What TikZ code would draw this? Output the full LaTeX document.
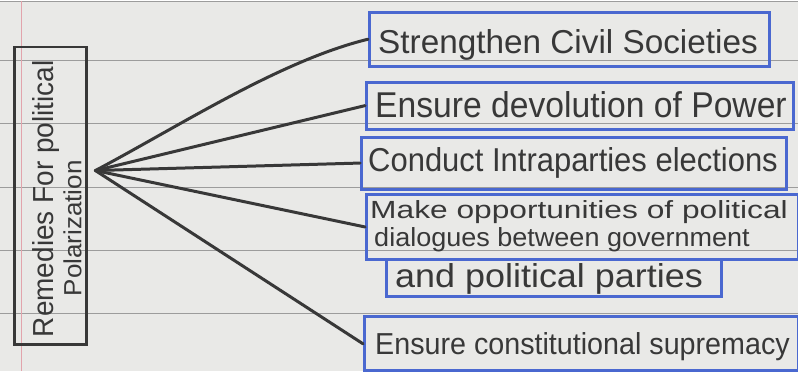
\documentclass[tikz,border=0pt]{standalone}
\usepackage{fontspec}
\setmainfont{Liberation Sans}
\usepackage{graphicx}
\definecolor{pen}{HTML}{4A68D0}
\definecolor{ink}{HTML}{383838}
\definecolor{paper}{HTML}{E9E9E7}
\definecolor{paperrule}{HTML}{9C9C9C}
\definecolor{marginline}{HTML}{E2A4AC}
\newcommand\fitt[3]{\resizebox{#1pt}{#2pt}{#3}}
\tikzset{
  bluebox/.style={draw=pen, line width=3pt, rectangle, inner sep=0pt, anchor=north west},
  inkbox/.style={draw=ink, line width=2.5pt, rectangle, inner sep=0pt, anchor=north west},
  txt/.style={text=ink, inner sep=0pt, anchor=base west},
  conn/.style={draw=ink, line width=3pt, line cap=round},
}
\begin{document}
\begin{tikzpicture}[x=1pt,y=-1pt]
\fill[paper] (0,0) rectangle (798,371);
\foreach \yy in {1,60,123,187,250,313} \draw[paperrule, line width=1pt] (0,\yy) -- (798,\yy);
\draw[marginline, line width=1.5pt] (21,0) -- (21,371);
\useasboundingbox (0,0) rectangle (798,371);

% left box
\node[inkbox, minimum width=72pt, minimum height=298pt] (lb) at (13,45) {};
\node[txt, rotate=90] (l1) at (53,337) {\fitt{277}{21}{Remedies For political}};
\node[txt, rotate=90] (l2) at (81,296) {\fitt{136}{18}{Polarization}};
\coordinate (hub) at (95,170);

% right boxes
\node[bluebox, minimum width=400pt, minimum height=54pt] (b1) at (368,10) {};
\node[bluebox, minimum width=427pt, minimum height=47pt] (b2) at (365,80) {};
\node[bluebox, minimum width=425pt, minimum height=52pt] (b3) at (360,135) {};
\node[bluebox, minimum width=432pt, minimum height=66pt] (b4) at (365,192) {};
\node[bluebox, minimum width=335pt, minimum height=37pt] (b4b) at (385,258) {};
\node[bluebox, minimum width=434pt, minimum height=54pt] (b5) at (363,315) {};

% texts
\node[txt] (t1) at (378,53) {\fitt{380}{24}{Strengthen Civil Societies}};
\node[txt] (t2) at (375,117) {\fitt{412}{26}{Ensure devolution of Power}};
\node[txt] (t3) at (368,171) {\fitt{410}{24}{Conduct Intraparties elections}};
\node[txt] (t4a) at (370,218) {\fitt{418}{18}{Make opportunities of political}};
\node[txt] (t4b) at (374,246) {\fitt{376}{19}{dialogues between government}};
\node[txt] (t4c) at (395,287) {\fitt{308}{24}{and political parties}};
\node[txt] (t5) at (375,354) {\fitt{415}{22}{Ensure constitutional supremacy}};

% connectors
\draw[conn] (hub) .. controls (180,125) and (280,60) .. (b1.west);
\draw[conn] (hub) -- (b2.west);
\draw[conn] (hub) -- (b3.west);
\draw[conn] (hub) -- (b4.west);
\draw[conn] (hub) -- (b5.west);
\end{tikzpicture}
\end{document}
